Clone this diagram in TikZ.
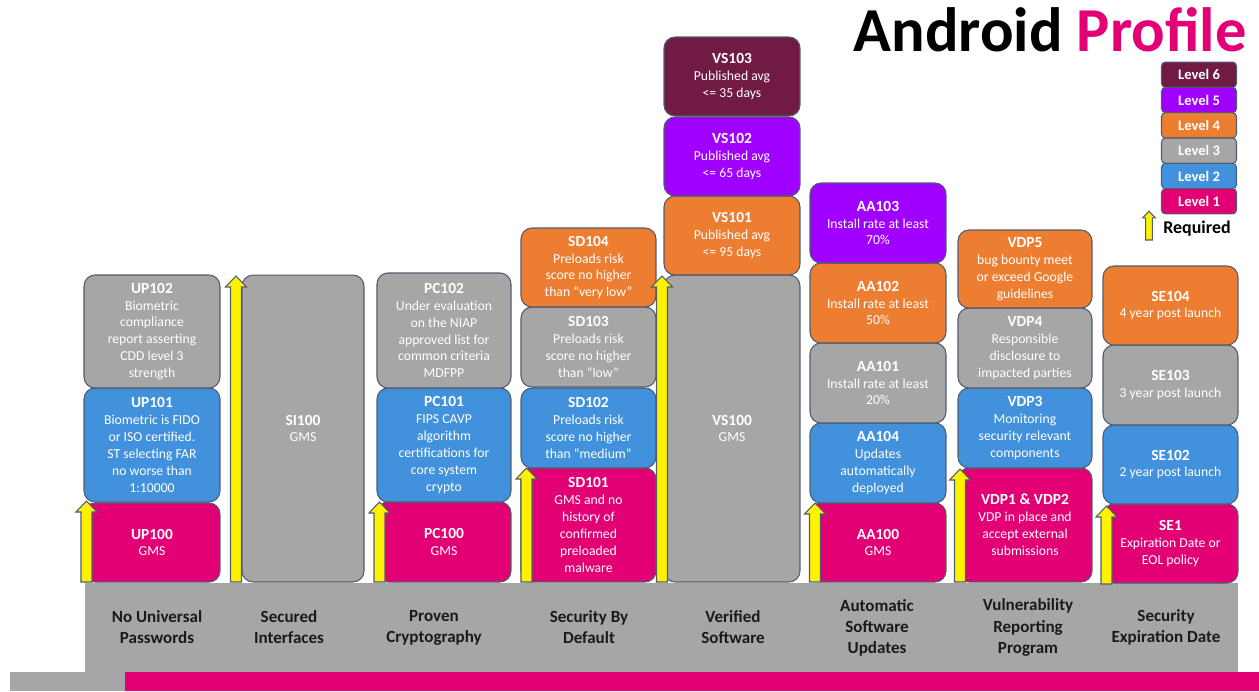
\documentclass[tikz,border=0pt]{standalone}
\usepackage{fontspec}
\setmainfont{Carlito}
\definecolor{pinkc}{RGB}{226,0,116}
\definecolor{bluec}{RGB}{65,145,220}
\definecolor{grayc}{RGB}{166,166,166}
\definecolor{orangec}{RGB}{237,125,49}
\definecolor{purplec}{RGB}{160,0,255}
\definecolor{maroonc}{RGB}{112,26,68}
\definecolor{edgec}{RGB}{80,92,112}
\definecolor{labelc}{RGB}{26,26,26}
\newcommand\boxid[1]{{\fontsize{8.8}{9.6}\selectfont\bfseries #1}}

\begin{document}
\begin{tikzpicture}[x=0.02cm,y=-0.02cm,
		lvl/.style={draw=edgec,line width=0.6pt,rounded corners=0.22cm,text=white,align=center,inner sep=1pt,minimum width=2.72cm,minimum height=1.6cm,font=\fontsize{7.8}{9.6}\selectfont},
		lvlone/.style={lvl,fill=pinkc},
		lvltwo/.style={lvl,fill=bluec},
		lvlthree/.style={lvl,fill=grayc},
		lvlfour/.style={lvl,fill=orangec},
		lvlfive/.style={lvl,fill=purplec},
		lvlsix/.style={lvl,fill=maroonc},
		legendbox/.style={draw=edgec,line width=0.6pt,rounded corners=0.08cm,text=white,minimum width=1.5cm,minimum height=0.506cm,inner sep=0pt,font=\fontsize{8.3}{9}\selectfont\bfseries},
		catlabel/.style={align=center,text=labelc,font=\fontsize{9.7}{12}\selectfont\bfseries},
		arrowfill/.style={draw=edgec,line width=0.6pt,fill=yellow,line join=miter},
		pics/reqarrow/.style={code={
			\draw[arrowfill] (-5.5,0) -- (-5.5,-#1+11) -- (-10.5,-#1+11) -- (0,-#1) -- (10.5,-#1+11) -- (5.5,-#1+11) -- (5.5,0) -- cycle;
		}}]
		\useasboundingbox (0,0) rectangle (1259,691);

		\fill[grayc] (85,583) rectangle (1238,672);
		\fill[grayc] (10,672) rectangle (125,691);
		\fill[pinkc] (125,672) rectangle (1259,691);

		\node[lvlone,minimum height=1.58cm] (up100) at (152,542.5) {\boxid{UP100}\\GMS};
		\node[lvltwo,minimum height=2.28cm] (up101) at (152,445) {\boxid{UP101}\\Biometric is FIDO\\or ISO certified.\\ST selecting FAR\\no worse than\\1:10000};
		\node[lvlthree,minimum height=2.26cm] (up102) at (152,331.5) {\boxid{UP102}\\Biometric\\compliance\\report asserting\\CDD level 3\\strength};

		\node[lvlthree,minimum width=2.44cm,minimum height=6.14cm] (si100) at (303,428.5) {\boxid{SI100}\\GMS};

		\node[lvlone,minimum width=2.68cm] (pc100) at (444,542) {\boxid{PC100}\\GMS};
		\node[lvltwo,minimum width=2.68cm,minimum height=2.28cm] (pc101) at (444,445) {\boxid{PC101}\\FIPS CAVP\\algorithm\\certifications for\\core system\\crypto};
		\node[lvlthree,minimum width=2.68cm,minimum height=2.3cm] (pc102) at (444,330.5) {\boxid{PC102}\\Under evaluation\\on the NIAP\\approved list for\\common criteria\\MDFPP};

		\node[lvlone,minimum width=2.7cm,minimum height=2.28cm] (sd101) at (588.5,525) {\boxid{SD101}\\GMS and no\\history of\\confirmed\\preloaded\\malware};
		\node[lvltwo,minimum width=2.7cm] (sd102) at (588.5,428) {\boxid{SD102}\\Preloads risk\\score no higher\\than “medium”};
		\node[lvlthree,minimum width=2.7cm] (sd103) at (588.5,347) {\boxid{SD103}\\Preloads risk\\score no higher\\than “low”};
		\node[lvlfour,minimum width=2.7cm,minimum height=1.58cm] (sd104) at (588.5,267.5) {\boxid{SD104}\\Preloads risk\\score no higher\\than “very low”};

		\node[lvlthree,minimum height=6.14cm] (vs100) at (732,428.5) {\boxid{VS100}\\GMS};
		\node[lvlfour,minimum height=1.58cm] (vs101) at (732,235.5) {\boxid{VS101}\\Published avg\\<= 95 days};
		\node[lvlfive,minimum height=1.58cm] (vs102) at (732,156.5) {\boxid{VS102}\\Published avg\\<= 65 days};
		\node[lvlsix,minimum height=1.58cm] (vs103) at (732,76.5) {\boxid{VS103}\\Published avg\\<= 35 days};

		\node[lvlone,minimum height=1.58cm] (aa100) at (878,542.5) {\boxid{AA100}\\GMS};
		\node[lvltwo] (aa104) at (878,463) {\boxid{AA104}\\Updates\\automatically\\deployed};
		\node[lvlthree] (aa101) at (878,383) {\boxid{AA101}\\Install rate at least\\20\%};
		\node[lvlfour] (aa102) at (878,303) {\boxid{AA102}\\Install rate at least\\50\%};
		\node[lvlfive] (aa103) at (878,223) {\boxid{AA103}\\Install rate at least\\70\%};

		\node[lvlone,minimum width=2.68cm,minimum height=2.28cm] (vdp12) at (1025,525) {\boxid{VDP1 \& VDP2}\\VDP in place and\\accept external\\submissions};
		\node[lvltwo,minimum width=2.68cm] (vdp3) at (1025,428) {\boxid{VDP3}\\Monitoring\\security relevant\\components};
		\node[lvlthree,minimum width=2.68cm] (vdp4) at (1025,348) {\boxid{VDP4}\\Responsible\\disclosure to\\impacted parties};
		\node[lvlfour,minimum width=2.68cm,minimum height=1.56cm] (vdp5) at (1025,269) {\boxid{VDP5}\\bug bounty meet\\or exceed Google\\guidelines};

		\node[lvlone,minimum width=2.7cm,minimum height=1.58cm] (se1) at (1170.5,543.5) {\boxid{SE1}\\Expiration Date or\\EOL policy};
		\node[lvltwo,minimum width=2.7cm,minimum height=1.58cm] (se102) at (1170.5,464.5) {\boxid{SE102}\\2 year post launch};
		\node[lvlthree,minimum width=2.7cm,minimum height=1.6cm] (se103) at (1170.5,385) {\boxid{SE103}\\3 year post launch};
		\node[lvlfour,minimum width=2.7cm,minimum height=1.58cm] (se104) at (1170.5,305.5) {\boxid{SE104}\\4 year post launch};

		\pic at (86.5,582) {reqarrow=81};
		\pic at (236,582) {reqarrow=306};
		\pic at (379.5,582) {reqarrow=80};
		\pic at (526.5,582) {reqarrow=114};
		\pic at (662,582) {reqarrow=306};
		\pic at (815,582) {reqarrow=79};
		\pic at (960,582) {reqarrow=113};
		\pic at (1106.5,584) {reqarrow=78};

		\node[catlabel] (lblup) at (157,627.5) {No Universal\\Passwords};
		\node[catlabel] (lblsi) at (289,627.5) {Secured\\Interfaces};
		\node[catlabel] (lblpc) at (434,627.5) {Proven\\Cryptography};
		\node[catlabel] (lblsd) at (589,627.5) {Security By\\Default};
		\node[catlabel] (lblvs) at (733,627.5) {Verified\\Software};
		\node[catlabel] (lblaa) at (877,627.5) {Automatic\\Software\\Updates};
		\node[catlabel] (lblvdp) at (1028,627.5) {Vulnerability\\Reporting\\Program};
		\node[catlabel] (lblse) at (1166,627.5) {Security\\Expiration Date};

		\node[anchor=base east,inner sep=0pt,font=\fontsize{35.6}{40}\selectfont\bfseries] (title) at (1247,51) {Android \textcolor{pinkc}{Profile}};

		\node[legendbox,fill=maroonc] (leg6) at (1199,74.7) {Level 6};
		\node[legendbox,fill=purplec] (leg5) at (1199,100) {Level 5};
		\node[legendbox,fill=orangec] (leg4) at (1199,125.3) {Level 4};
		\node[legendbox,fill=grayc] (leg3) at (1199,150.7) {Level 3};
		\node[legendbox,fill=bluec] (leg2) at (1199,176) {Level 2};
		\node[legendbox,fill=pinkc] (leg1) at (1199,201.3) {Level 1};
		\pic[scale=0.6] at (1149,240) {reqarrow=48};
		\node[anchor=base west,inner sep=0pt,font=\fontsize{10.2}{12}\selectfont\bfseries] (req) at (1163,233) {Required};
	\end{tikzpicture}
\end{document}
